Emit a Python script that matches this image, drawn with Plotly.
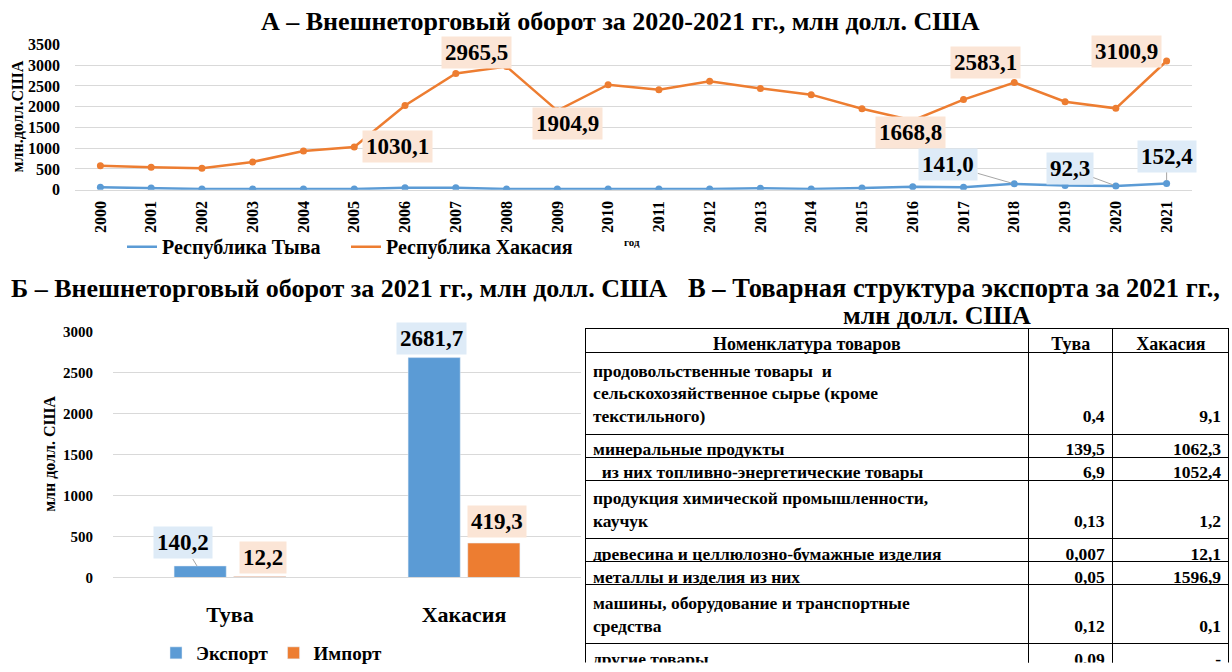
import plotly.graph_objects as go

# ---------------- data ----------------
years = ["2000", "2001", "2002", "2003", "2004", "2005", "2006", "2007", "2008", "2009", "2010",
         "2011", "2012", "2013", "2014", "2015", "2016", "2017", "2018", "2019", "2020", "2021"]
tyva = [60, 40, 15, 15, 15, 15, 45, 45, 15, 15, 15, 15, 15, 35, 20, 40, 70, 60, 141.0, 100, 92.3, 152.4]
khakasia = [580, 540, 520, 670, 930, 1030.1, 2030, 2800, 2965.5, 1904.9, 2530, 2410, 2610, 2440,
            2290, 1950, 1668.8, 2170, 2583.1, 2120, 1960, 3100.9]

regions = ["Тува", "Хакасия"]
export_2021 = [140.2, 2681.7]
import_2021 = [12.2, 419.3]

goods = [
    "продовольственные товары  и<br>сельскохозяйственное сырье (кроме<br>текстильного)",
    "минеральные продукты",
    "\u00a0\u00a0из них топливно-энергетические товары",
    "продукция химической промышленности,<br>каучук",
    "древесина и целлюлозно-бумажные изделия",
    "металлы и изделия из них",
    "машины, оборудование и транспортные<br>средства",
    "другие товары",
]
goods_tyva = ["0,4", "139,5", "6,9", "0,13", "0,007", "0,05", "0,12", "0,09"]
goods_khakasia = ["9,1", "1062,3", "1052,4", "1,2", "12,1", "1596,9", "0,1", "-"]
table_header = ["Номенклатура товаров", "Тува", "Хакасия"]

# ---------------- styles ----------------
BLUE = "#5B9BD5"
ORANGE = "#ED7D31"
BLUE_BG = "#DEEBF7"
ORANGE_BG = "#FBE5D6"
GRID = "#D9D9D9"
LEADER = "#A6A6A6"
SERIF = "Liberation Serif"
W, H = 1232, 672


def px_x(p):
    return p / W


def px_y(p):
    return 1 - p / H


def fmt(v):
    return f"{v:.1f}".replace(".", ",")


fig = go.Figure()

# ---- chart A: lines ----
for name, vals, col, lg in [("Республика Тыва", tyva, BLUE, "legend"),
                            ("Республика Хакасия", khakasia, ORANGE, "legend3")]:
    fig.add_trace(go.Scatter(x=years, y=vals, name=name, mode="lines",
                             line=dict(color=col, width=2.5),
                             xaxis="x", yaxis="y", legend=lg))
    fig.add_trace(go.Scatter(x=years, y=vals, name=name, mode="markers",
                             marker=dict(color=col, size=7), showlegend=False,
                             xaxis="x", yaxis="y"))

# ---- chart Б: bars ----
fig.add_trace(go.Bar(x=regions, y=export_2021, name="Экспорт", marker_color=BLUE,
                     xaxis="x2", yaxis="y2", legend="legend2"))
fig.add_trace(go.Bar(x=regions, y=import_2021, name="Импорт", marker_color=ORANGE,
                     xaxis="x2", yaxis="y2", legend="legend2"))

# ---- table В ----
n_lines = [g.count("<br>") for g in goods]
col_tyva = ["\u00a0<br>" * n + v for n, v in zip(n_lines, goods_tyva)]
col_kh = ["\u00a0<br>" * n + v for n, v in zip(n_lines, goods_khakasia)]
fig.add_trace(go.Table(
    domain=dict(x=[px_x(585), px_x(1229)], y=[0, px_y(333)]),
    columnwidth=[443, 84, 116],
    header=dict(values=table_header, align="center",
                font=dict(family=SERIF, size=18, color="black", weight="bold"),
                line=dict(color="black", width=1), fill=dict(color="white"), height=24),
    cells=dict(values=[goods, col_tyva, col_kh], align=["left", "right", "right"],
               font=dict(family=SERIF, size=17.5, color="black", weight="bold"),
               line=dict(color="black", width=1), fill=dict(color="white"), height=23),
))

ann = []
# titles
ann.append(dict(text="А – Внешнеторговый оборот за 2020-2021 гг., млн долл. США",
                x=px_x(620), y=px_y(22), font=dict(size=26)))
ann.append(dict(text="Б – Внешнеторговый оборот за 2021 гг., млн долл. США",
                x=px_x(9), y=px_y(292), xanchor="left", font=dict(size=26)))
ann.append(dict(text="В – Товарная структура экспорта за 2021 гг.,",
                x=px_x(686), y=px_y(292), xanchor="left", font=dict(size=26.5)))
ann.append(dict(text="млн долл. США", x=px_x(937), y=px_y(320), font=dict(size=26)))
# axis titles
ann.append(dict(text="млн.долл.США", x=px_x(17), y=px_y(118), textangle=-90, font=dict(size=16)))
ann.append(dict(text="год", x=px_x(632), y=px_y(245), font=dict(size=11)))
ann.append(dict(text="млн долл. США", x=px_x(50), y=px_y(460), textangle=-90, font=dict(size=16)))
for a in ann:
    a.setdefault("xanchor", "center")
    a.update(xref="paper", yref="paper", yanchor="middle", showarrow=False)
    a["font"].update(family=SERIF, color="black", weight="bold")

LBL = dict(family=SERIF, size=23, color="black", weight="bold")

# chart A data labels: (year index, xshift, yshift)
orange_lbls = [(5, 43, 0), (8, -30, 14), (9, 10, -13), (16, -2, -12), (18, -29, 20), (21, -40, 9)]
for i, dx, dy in orange_lbls:
    ann.append(dict(x=i, y=khakasia[i], xref="x", yref="y", text=fmt(khakasia[i]),
                    showarrow=False, xshift=dx, yshift=dy, bgcolor=ORANGE_BG, borderpad=3,
                    font=LBL))
blue_lbls = [(18, -66, -19), (20, -46, -17), (21, 0, -27)]
for i, ax, ay in blue_lbls:
    ann.append(dict(x=i, y=tyva[i], xref="x", yref="y", text=fmt(tyva[i]),
                    showarrow=True, ax=ax, ay=ay, arrowhead=0, arrowwidth=1,
                    arrowcolor=LEADER, standoff=3, bgcolor=BLUE_BG, borderpad=3, font=LBL))

# chart Б data labels
ann.append(dict(x=0, y=export_2021[0], xref="x2", yref="y2", text=fmt(export_2021[0]),
                xshift=-33, showarrow=True, ax=-14, ay=-23, arrowhead=0, arrowwidth=1,
                arrowcolor=LEADER, bgcolor=BLUE_BG, borderpad=3, font=LBL))
ann.append(dict(x=0, y=import_2021[0], xref="x2", yref="y2", text=fmt(import_2021[0]),
                xshift=33, yshift=19, showarrow=False, bgcolor=ORANGE_BG, borderpad=3, font=LBL))
ann.append(dict(x=1, y=export_2021[1], xref="x2", yref="y2", text=fmt(export_2021[1]),
                xshift=-33, yshift=19, showarrow=False, bgcolor=BLUE_BG, borderpad=3, font=LBL))
ann.append(dict(x=1, y=import_2021[1], xref="x2", yref="y2", text=fmt(import_2021[1]),
                xshift=33, yshift=22, showarrow=False, bgcolor=ORANGE_BG, borderpad=3, font=LBL))

LEGFONT = dict(family=SERIF, size=20, color="black", weight="bold")
fig.update_layout(
    width=W, height=H, autosize=False,
    margin=dict(l=0, r=0, t=0, b=0, pad=0),
    paper_bgcolor="white", plot_bgcolor="white",
    font=dict(family=SERIF, color="black"),
    barmode="group", bargap=0.49, bargroupgap=0.126,
    annotations=ann,
    xaxis=dict(domain=[px_x(75), px_x(1192)], anchor="y", type="category", range=[-0.5, 21.5],
               tickangle=-90, tickfont=dict(family=SERIF, size=16, weight="bold"),
               showgrid=False, showline=True, linecolor=GRID, linewidth=1, ticks="",
               ticklabelstandoff=4, automargin=False),
    yaxis=dict(domain=[px_y(192.3), px_y(45)], anchor="x", range=[0, 3500], dtick=500,
               tickfont=dict(family=SERIF, size=16, weight="bold"), gridcolor=GRID,
               showline=False, zeroline=False, ticklabelstandoff=14, automargin=False),
    xaxis2=dict(domain=[px_x(113), px_x(581)], anchor="y2", type="category", range=[-0.5, 1.5],
                tickfont=dict(family=SERIF, size=22, weight="bold"), showgrid=False,
                showline=True, linecolor=GRID, linewidth=1, ticks="", ticklabelstandoff=17,
                automargin=False),
    yaxis2=dict(domain=[px_y(585.3), px_y(336)], anchor="x2", range=[0, 3000], dtick=500,
                tickfont=dict(family=SERIF, size=15, weight="bold"), gridcolor=GRID,
                showline=False, zeroline=False, ticklabelstandoff=19, automargin=False),
    legend=dict(orientation="h", x=px_x(122), y=px_y(250), xanchor="left", yanchor="middle",
                font=LEGFONT, bgcolor="rgba(0,0,0,0)", itemwidth=30),
    legend3=dict(orientation="h", x=px_x(346), y=px_y(250), xanchor="left", yanchor="middle",
                 font=LEGFONT, bgcolor="rgba(0,0,0,0)", itemwidth=30),
    legend2=dict(orientation="h", x=px_x(156), y=px_y(662), xanchor="left", yanchor="middle",
                 font=dict(family=SERIF, size=19, color="black", weight="bold"),
                 bgcolor="rgba(0,0,0,0)", itemwidth=30),
)

fig.write_html("out.html", config={"displayModeBar": False},
               post_script="document.body.style.margin='0px';")
